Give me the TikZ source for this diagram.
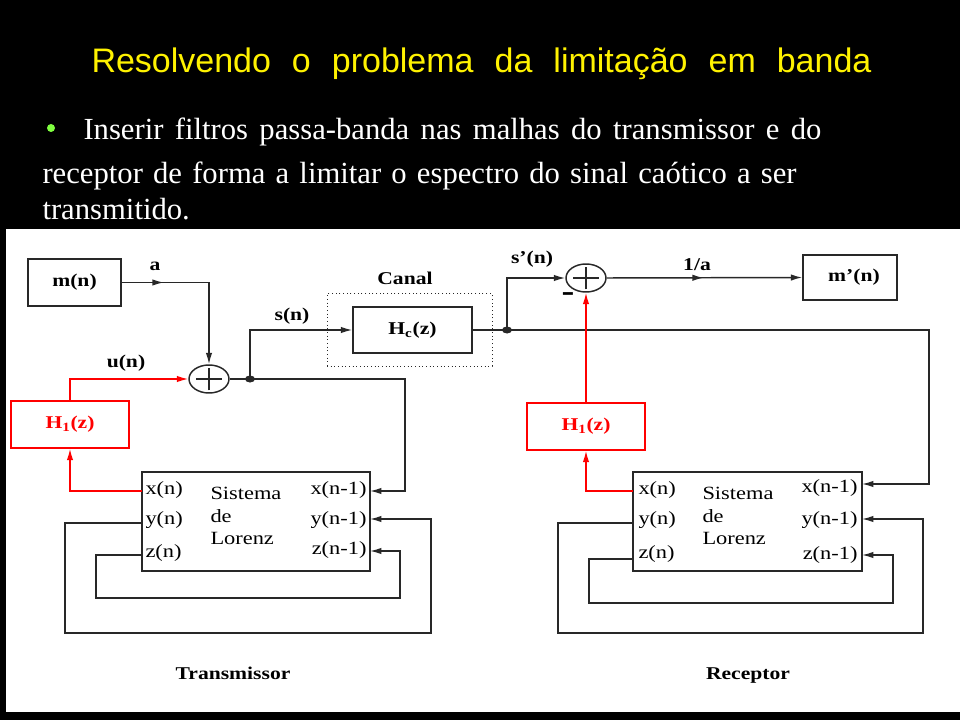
\documentclass[tikz,border=0pt]{standalone}
\usepackage{fontspec}
\setmainfont{Liberation Serif}
\newfontfamily\titlefont{Liberation Sans}
\newfontfamily\diagfont[FakeStretch=1.2]{Liberation Serif}
\usetikzlibrary{arrows.meta,shapes.geometric,decorations.markings}

\definecolor{bulletgreen}{RGB}{128,255,64}
\definecolor{wiregray}{RGB}{40,40,40}

\tikzset{every picture/.style={line width=0.75pt}}

\begin{document}
\begin{tikzpicture}[x=0.75pt,y=0.75pt,yscale=-1,xscale=1,
	>={Latex[length=8.5pt,width=4.8pt]},
	wire/.style={draw=wiregray, line width=1.1pt},
	redwire/.style={draw=red, line width=1.1pt},
	blk/.style={draw=wiregray, line width=1.1pt, inner sep=0pt, font=\diagfont\bfseries\fontsize{13.5}{15}\selectfont},
	redblk/.style={blk, draw=red, text=red},
	sumnode/.style={ellipse, draw=wiregray, line width=1.1pt, minimum width=30pt, minimum height=21pt, inner sep=0pt,
		path picture={\draw[line width=2pt] ([xshift=-9.5pt]path picture bounding box.center) -- ([xshift=9.5pt]path picture bounding box.center)
			([yshift=-8.5pt]path picture bounding box.center) -- ([yshift=8.5pt]path picture bounding box.center);}},
	lbl/.style={inner sep=0pt, font=\diagfont\bfseries\fontsize{13.5}{15}\selectfont},
	port/.style={inner sep=0pt, font=\diagfont\fontsize{14}{17}\selectfont},
	midarrow/.style={postaction={decorate,decoration={markings,mark=at position #1 with {\arrow{>}}}}}]
	\useasboundingbox (0,0) rectangle (960,720);
	
	%Background
	\fill[black] (0,0) rectangle (960,720);
	\fill[white] (6,229) rectangle (960,712);
	
	% Title and bullet text
	\node[anchor=base west, inner sep=0pt, text=yellow, font=\titlefont\fontsize{25.5}{30}\selectfont] (title) at (91,73) {\makebox[585pt][s]{Resolvendo o problema da limitação em banda}};
	\fill[bulletgreen] (51,128) circle (4);
	\node[anchor=base west, inner sep=0pt, text=white, font=\fontsize{23}{28}\selectfont] (line1) at (83,140) {\makebox[553.5pt][s]{Inserir filtros passa-banda nas malhas do transmissor e do}};
	\node[anchor=base west, inner sep=0pt, text=white, font=\fontsize{23}{28}\selectfont] (line2) at (42,184) {\makebox[565.5pt][s]{receptor de forma a limitar o espectro do sinal caótico a ser}};
	\node[anchor=base west, inner sep=0pt, text=white, font=\fontsize{23}{28}\selectfont] (line3) at (42,220) {transmitido.};
	
	%Blocks
	\node[blk, minimum width=69.75pt, minimum height=35.25pt] (mn) at (74.5,282.5) {m(n)};
	\node[sumnode] (sum1) at (209,379) {};
	\node[redblk, minimum width=88.5pt, minimum height=35.25pt] (H1t) at (70,424.5) {H\textsubscript{1}(z)};
	\node[draw=wiregray, dotted, minimum width=123.75pt, minimum height=54pt] (canal) at (409.5,330) {};
	\node[blk, minimum width=89.25pt, minimum height=34.5pt] (Hc) at (412.5,330) {H\textsubscript{c}(z)};
	\node[sumnode] (sum2) at (586,278) {};
	\node[blk, minimum width=70.5pt, minimum height=33.75pt] (mpn) at (850,277.5) {\hspace{6pt}m’(n)};
	\node[redblk, minimum width=88.5pt, minimum height=35.25pt] (H1r) at (586,426.5) {H\textsubscript{1}(z)};
	\node[draw=wiregray, line width=1.1pt, minimum width=171pt, minimum height=74.25pt] (lorT) at (256,521.5) {};
	\node[draw=wiregray, line width=1.1pt, minimum width=171.75pt, minimum height=74.25pt] (lorR) at (747.5,521.5) {};
	
	% Text Nodes
	\node[lbl] (la) at (155,266) {a};
	\node[lbl] (lun) at (126,363) {u(n)};
	\node[lbl] (lsn) at (292,316) {s(n)};
	\node[lbl] (lcanal) at (405,278) {Canal};
	\node[lbl] (lspn) at (532,259) {s’(n)};
	\node[lbl, font=\diagfont\bfseries\fontsize{24}{26}\selectfont] (lminus) at (568,297) {-};
	\node[lbl] (linva) at (697,265) {1/a};
	\node[lbl, anchor=base] (ltrans) at (233,679) {Transmissor};
	\node[lbl, anchor=base] (lrec) at (748,679) {Receptor};
	\node[port, align=left, anchor=west] (lorTtxt) at (210,516) {Sistema\\de\\Lorenz};
	\node[port, align=left, anchor=west] (lorRtxt) at (702,516) {Sistema\\de\\Lorenz};
	\node[port, anchor=west] at (145,490) {x(n)};
	\node[port, anchor=west] at (145,520) {y(n)};
	\node[port, anchor=west] at (145,553) {z(n)};
	\node[port, anchor=east] at (367,490) {x(n-1)};
	\node[port, anchor=east] at (367,520) {y(n-1)};
	\node[port, anchor=east] at (367,550) {z(n-1)};
	\node[port, anchor=west] at (638,490) {x(n)};
	\node[port, anchor=west] at (638,520) {y(n)};
	\node[port, anchor=west] at (638,554) {z(n)};
	\node[port, anchor=east] at (858,488) {x(n-1)};
	\node[port, anchor=east] at (858,520) {y(n-1)};
	\node[port, anchor=east] at (858,555) {z(n-1)};
	
	%Ports and corners
	\coordinate (j1) at (250,379);
	\coordinate (j2) at (507,330);
	\coordinate (tx) at (142,491);
	\coordinate (ty) at (142,523);
	\coordinate (tz) at (142,555);
	\coordinate (tx1) at (370,491);
	\coordinate (ty1) at (370,519);
	\coordinate (tz1) at (370,551);
	\coordinate (rx) at (633,491);
	\coordinate (ry) at (633,523);
	\coordinate (rz) at (633,559);
	\coordinate (rx1) at (862,484);
	\coordinate (ry1) at (862,519);
	\coordinate (rz1) at (862,555);
	\coordinate (tret) at (405,491);
	\coordinate (rret) at (929,484);
	\coordinate (tyl) at (65,633);
	\coordinate (tyr) at (431,519);
	\coordinate (tzl) at (96,598);
	\coordinate (tzr) at (400,551);
	\coordinate (ryl) at (558,633);
	\coordinate (ryr) at (923,519);
	\coordinate (rzl) at (589,603);
	\coordinate (rzr) at (893,555);
	
	%Transmitter lines
	\draw[wire,->,midarrow=31.5pt] (mn.east) -| (sum1.north);
	\draw[redwire,->] (H1t.north) |- (sum1.west);
	\draw[redwire,->] (tx) -| (H1t.south);
	\draw[wire] (sum1.east) -- (j1);
	\draw[wire,->] (j1) |- (Hc.west);
	\draw[wire,->] (j1) -| (tret) -- (tx1);
	\draw[wire,->] (ty) -| (tyl) -| (tyr) -- (ty1);
	\draw[wire,->] (tz) -| (tzl) -| (tzr) -- (tz1);
	\fill[wiregray] (j1) ellipse (5 and 3.5);
	
	%Receiver lines
	\draw[wire] (Hc.east) -- (j2);
	\draw[wire,->] (j2) |- (sum2.west);
	\draw[wire,->] (j2) -| (rret) -- (rx1);
	\draw[wire,->,midarrow=72.75pt] (sum2.east) -- (mpn.west);
	\draw[redwire,->] (H1r.north) -- (sum2.south);
	\draw[redwire,->] (rx) -| (H1r.south);
	\draw[wire,->] (ry) -| (ryl) -| (ryr) -- (ry1);
	\draw[wire,->] (rz) -| (rzl) -| (rzr) -- (rz1);
	\fill[wiregray] (j2) ellipse (5 and 3.5);
	
\end{tikzpicture}
\end{document}
